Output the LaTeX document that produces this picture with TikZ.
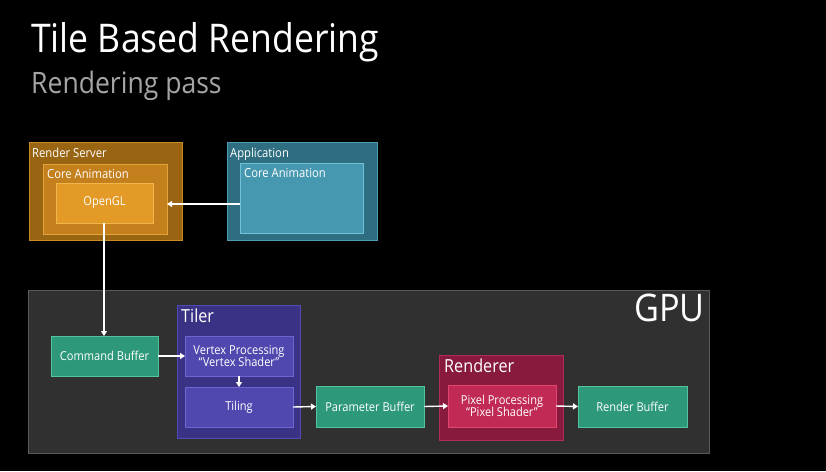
\documentclass[tikz,border=0pt]{standalone}
\usepackage{fontspec}
\setmainfont{Open Sans}[FakeStretch=0.9]
\usetikzlibrary{arrows.meta}
\definecolor{rsout}{HTML}{9A6512}
\definecolor{rsoutb}{HTML}{C88A22}
\definecolor{rsmid}{HTML}{C3801C}
\definecolor{rsmidb}{HTML}{E3A33A}
\definecolor{rsin}{HTML}{E39A26}
\definecolor{rsinb}{HTML}{F2B54A}
\definecolor{apout}{HTML}{2E6E80}
\definecolor{apoutb}{HTML}{4E9CB2}
\definecolor{apin}{HTML}{4698B0}
\definecolor{apinb}{HTML}{70C2D8}
\definecolor{gpufill}{HTML}{303030}
\definecolor{gpub}{HTML}{5A5A5A}
\definecolor{grn}{HTML}{2E987A}
\definecolor{grnb}{HTML}{52C49E}
\definecolor{tlout}{HTML}{3A3284}
\definecolor{tloutb}{HTML}{5448B2}
\definecolor{tlin}{HTML}{5048AE}
\definecolor{tlinb}{HTML}{6E64D2}
\definecolor{rdout}{HTML}{881A3E}
\definecolor{rdoutb}{HTML}{B02C56}
\definecolor{rdin}{HTML}{C02A55}
\definecolor{rdinb}{HTML}{E2466E}
\definecolor{subgray}{HTML}{A5A5A5}
\tikzset{
  bx/.style={rectangle, anchor=north west, inner sep=0pt, outer sep=0pt, line width=0.9pt, text=white, font=\fontsize{12.3}{14}\selectfont, align=center},
  lbl/.style={anchor=north west, inner sep=0pt, text=white, font=\fontsize{12.5}{14}\selectfont},
  biglbl/.style={anchor=north west, inner sep=0pt, text=white, font=\fontsize{18}{20}\selectfont},
  arr/.style={draw=white, line width=1.4pt, -{Triangle[length=5pt,width=6pt]}}
}
\begin{document}
\begin{tikzpicture}[x=1pt,y=-1pt]
\fill[black] (0,0) rectangle (826,471);
\useasboundingbox (0,0) rectangle (826,471);
% titles
\node[anchor=base west, inner sep=0pt, text=white, font=\fontsize{39.5}{42}\selectfont] (title) at (31,52) {Tile Based Rendering};
\node[anchor=base west, inner sep=0pt, text=subgray, font=\fontsize{29.5}{32}\selectfont] (subtitle) at (31,93) {Rendering pass};
% Render server
\node[bx, fill=rsout, draw=rsoutb, minimum width=153pt, minimum height=98pt] (rs) at (29,142) {};
\node[lbl] (rslbl) at (32,148) {Render Server};
\node[bx, fill=rsmid, draw=rsmidb, minimum width=124pt, minimum height=70pt] (rsca) at (43,164) {};
\node[lbl] (rscalbl) at (47,169) {Core Animation};
\node[bx, fill=rsin, draw=rsinb, minimum width=97pt, minimum height=40pt] (gl) at (56,183) {OpenGL};
% Application
\node[bx, fill=apout, draw=apoutb, minimum width=150pt, minimum height=98pt] (app) at (227,142) {};
\node[lbl] (applbl) at (230,148) {Application};
\node[bx, fill=apin, draw=apinb, minimum width=123pt, minimum height=70pt] (apca) at (240,163) {};
\node[lbl] (apcalbl) at (244,168) {Core Animation};
% GPU
\node[bx, fill=gpufill, draw=gpub, minimum width=681pt, minimum height=163pt] (gpu) at (28,290) {};
\node[anchor=north east, inner sep=0pt, text=white, font=\fontsize{38}{40}\selectfont] (gpulbl) at (705,294) {GPU};
% Command buffer
\node[bx, fill=grn, draw=grnb, minimum width=107pt, minimum height=40pt] (cb) at (51,336) {Command Buffer};
% Tiler
\node[bx, fill=tlout, draw=tloutb, minimum width=123pt, minimum height=133pt] (tiler) at (177,305) {};
\node[biglbl] (tilerlbl) at (181,309) {Tiler};
\node[bx, fill=tlin, draw=tlinb, minimum width=108pt, minimum height=40pt] (vp) at (185,336) {Vertex Processing\\[-2pt]“Vertex Shader”};
\node[bx, fill=tlin, draw=tlinb, minimum width=108pt, minimum height=40pt] (tiling) at (185,387) {Tiling};
% Parameter buffer
\node[bx, fill=grn, draw=grnb, minimum width=108pt, minimum height=41pt] (pb) at (316,386) {Parameter Buffer};
% Renderer
\node[bx, fill=rdout, draw=rdoutb, minimum width=124pt, minimum height=85pt] (rend) at (439,355) {};
\node[biglbl] (rendlbl) at (444,359) {Renderer};
\node[bx, fill=rdin, draw=rdinb, minimum width=108pt, minimum height=42pt] (pp) at (448,385) {Pixel Processing\\[-2pt]“Pixel Shader”};
% Render buffer
\node[bx, fill=grn, draw=grnb, minimum width=109pt, minimum height=41pt] (rb) at (578,386) {Render Buffer};
% arrows
\draw[arr] (apca.west |- 0,204) -- (rsca.east |- 0,204);
\draw[arr] (gl.south -| 104,0) -- (cb.north -| 104,0);
\draw[arr] (cb.east) -- (vp.west);
\draw[arr] (vp.south) -- (tiling.north);
\draw[arr] (tiling.east) -- (pb.west);
\draw[arr] (pb.east) -- (pp.west);
\draw[arr] (pp.east) -- (rb.west);
\end{tikzpicture}
\end{document}
